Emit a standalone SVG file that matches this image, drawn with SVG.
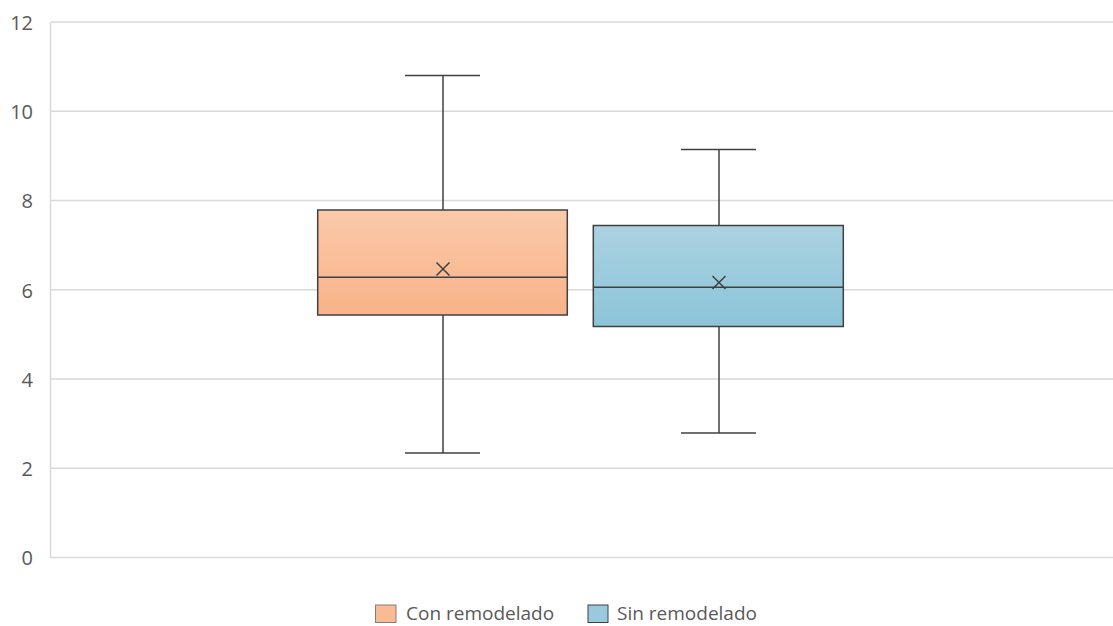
<svg xmlns="http://www.w3.org/2000/svg" width="1113" height="626" viewBox="0 0 1113 626">
<defs>
<linearGradient id="gO" x1="0" y1="0" x2="0" y2="1"><stop offset="0" stop-color="#fbc9aa"/><stop offset="1" stop-color="#f8b389"/></linearGradient>
<linearGradient id="gB" x1="0" y1="0" x2="0" y2="1"><stop offset="0" stop-color="#abd2e1"/><stop offset="1" stop-color="#8cc4d8"/></linearGradient>
<style>
.grid{stroke:#d9d9d9;stroke-width:1.5;fill:none}
.ax{font-family:"Open Sans","Liberation Sans",sans-serif;font-size:20px;fill:#595959}
.box{stroke:#404040;stroke-width:1.5}
.wh{stroke:#404040;stroke-width:1.5;fill:none}
.lg{font-family:"Open Sans","Liberation Sans",sans-serif;font-size:19px;fill:#595959}
</style>
</defs>
<rect width="1113" height="626" fill="#ffffff"/>
<g id="grid">
<line class="grid" x1="51" y1="22" x2="1113" y2="22"/>
<line class="grid" x1="51" y1="111.3" x2="1113" y2="111.3"/>
<line class="grid" x1="51" y1="200.5" x2="1113" y2="200.5"/>
<line class="grid" x1="51" y1="289.8" x2="1113" y2="289.8"/>
<line class="grid" x1="51" y1="379" x2="1113" y2="379"/>
<line class="grid" x1="51" y1="468.3" x2="1113" y2="468.3"/>
<line class="grid" x1="51" y1="557.5" x2="1113" y2="557.5"/>
<line class="grid" x1="50.5" y1="22" x2="50.5" y2="558"/>
</g>
<g id="yaxis" class="ax" text-anchor="end">
<text x="33" y="29.5">12</text>
<text x="33" y="119">10</text>
<text x="33" y="208">8</text>
<text x="33" y="297.5">6</text>
<text x="33" y="386.5">4</text>
<text x="33" y="476">2</text>
<text x="33" y="565">0</text>
</g>
<g id="connectors">
<line class="wh" x1="443" y1="75.5" x2="443" y2="210"/>
<line class="wh" x1="443" y1="315" x2="443" y2="453"/>
<line class="wh" x1="405" y1="75.5" x2="480" y2="75.5"/>
<line class="wh" x1="405" y1="453" x2="480" y2="453"/>
<line class="wh" x1="719" y1="149.5" x2="719" y2="225.5"/>
<line class="wh" x1="719" y1="326.5" x2="719" y2="433"/>
<line class="wh" x1="681" y1="149.5" x2="756" y2="149.5"/>
<line class="wh" x1="681" y1="433" x2="756" y2="433"/>
</g>
<g id="con-remodelado">
<rect class="box" x="317.7" y="210" width="249.6" height="105" fill="url(#gO)"/>
<line class="wh" x1="317.7" y1="277.3" x2="567.3" y2="277.3"/>
<path class="wh" d="M436.5 262.5 L449.5 275.5 M449.5 262.5 L436.5 275.5"/>
</g>
<g id="sin-remodelado">
<rect class="box" x="593.3" y="225.5" width="250" height="101" fill="url(#gB)"/>
<line class="wh" x1="593.3" y1="287.3" x2="843.3" y2="287.3"/>
<path class="wh" d="M712.5 276 L725.5 289 M725.5 276 L712.5 289"/>
</g>
<g id="legend">
<rect x="375.5" y="605" width="20.5" height="17.5" fill="#f9bb94" stroke="#808080" stroke-width="1"/>
<text class="lg" x="406" y="620">Con remodelado</text>
<rect x="588" y="605" width="20" height="17.5" fill="#98c9dc" stroke="#404040" stroke-width="1"/>
<text class="lg" x="617" y="620">Sin remodelado</text>
</g>
</svg>
